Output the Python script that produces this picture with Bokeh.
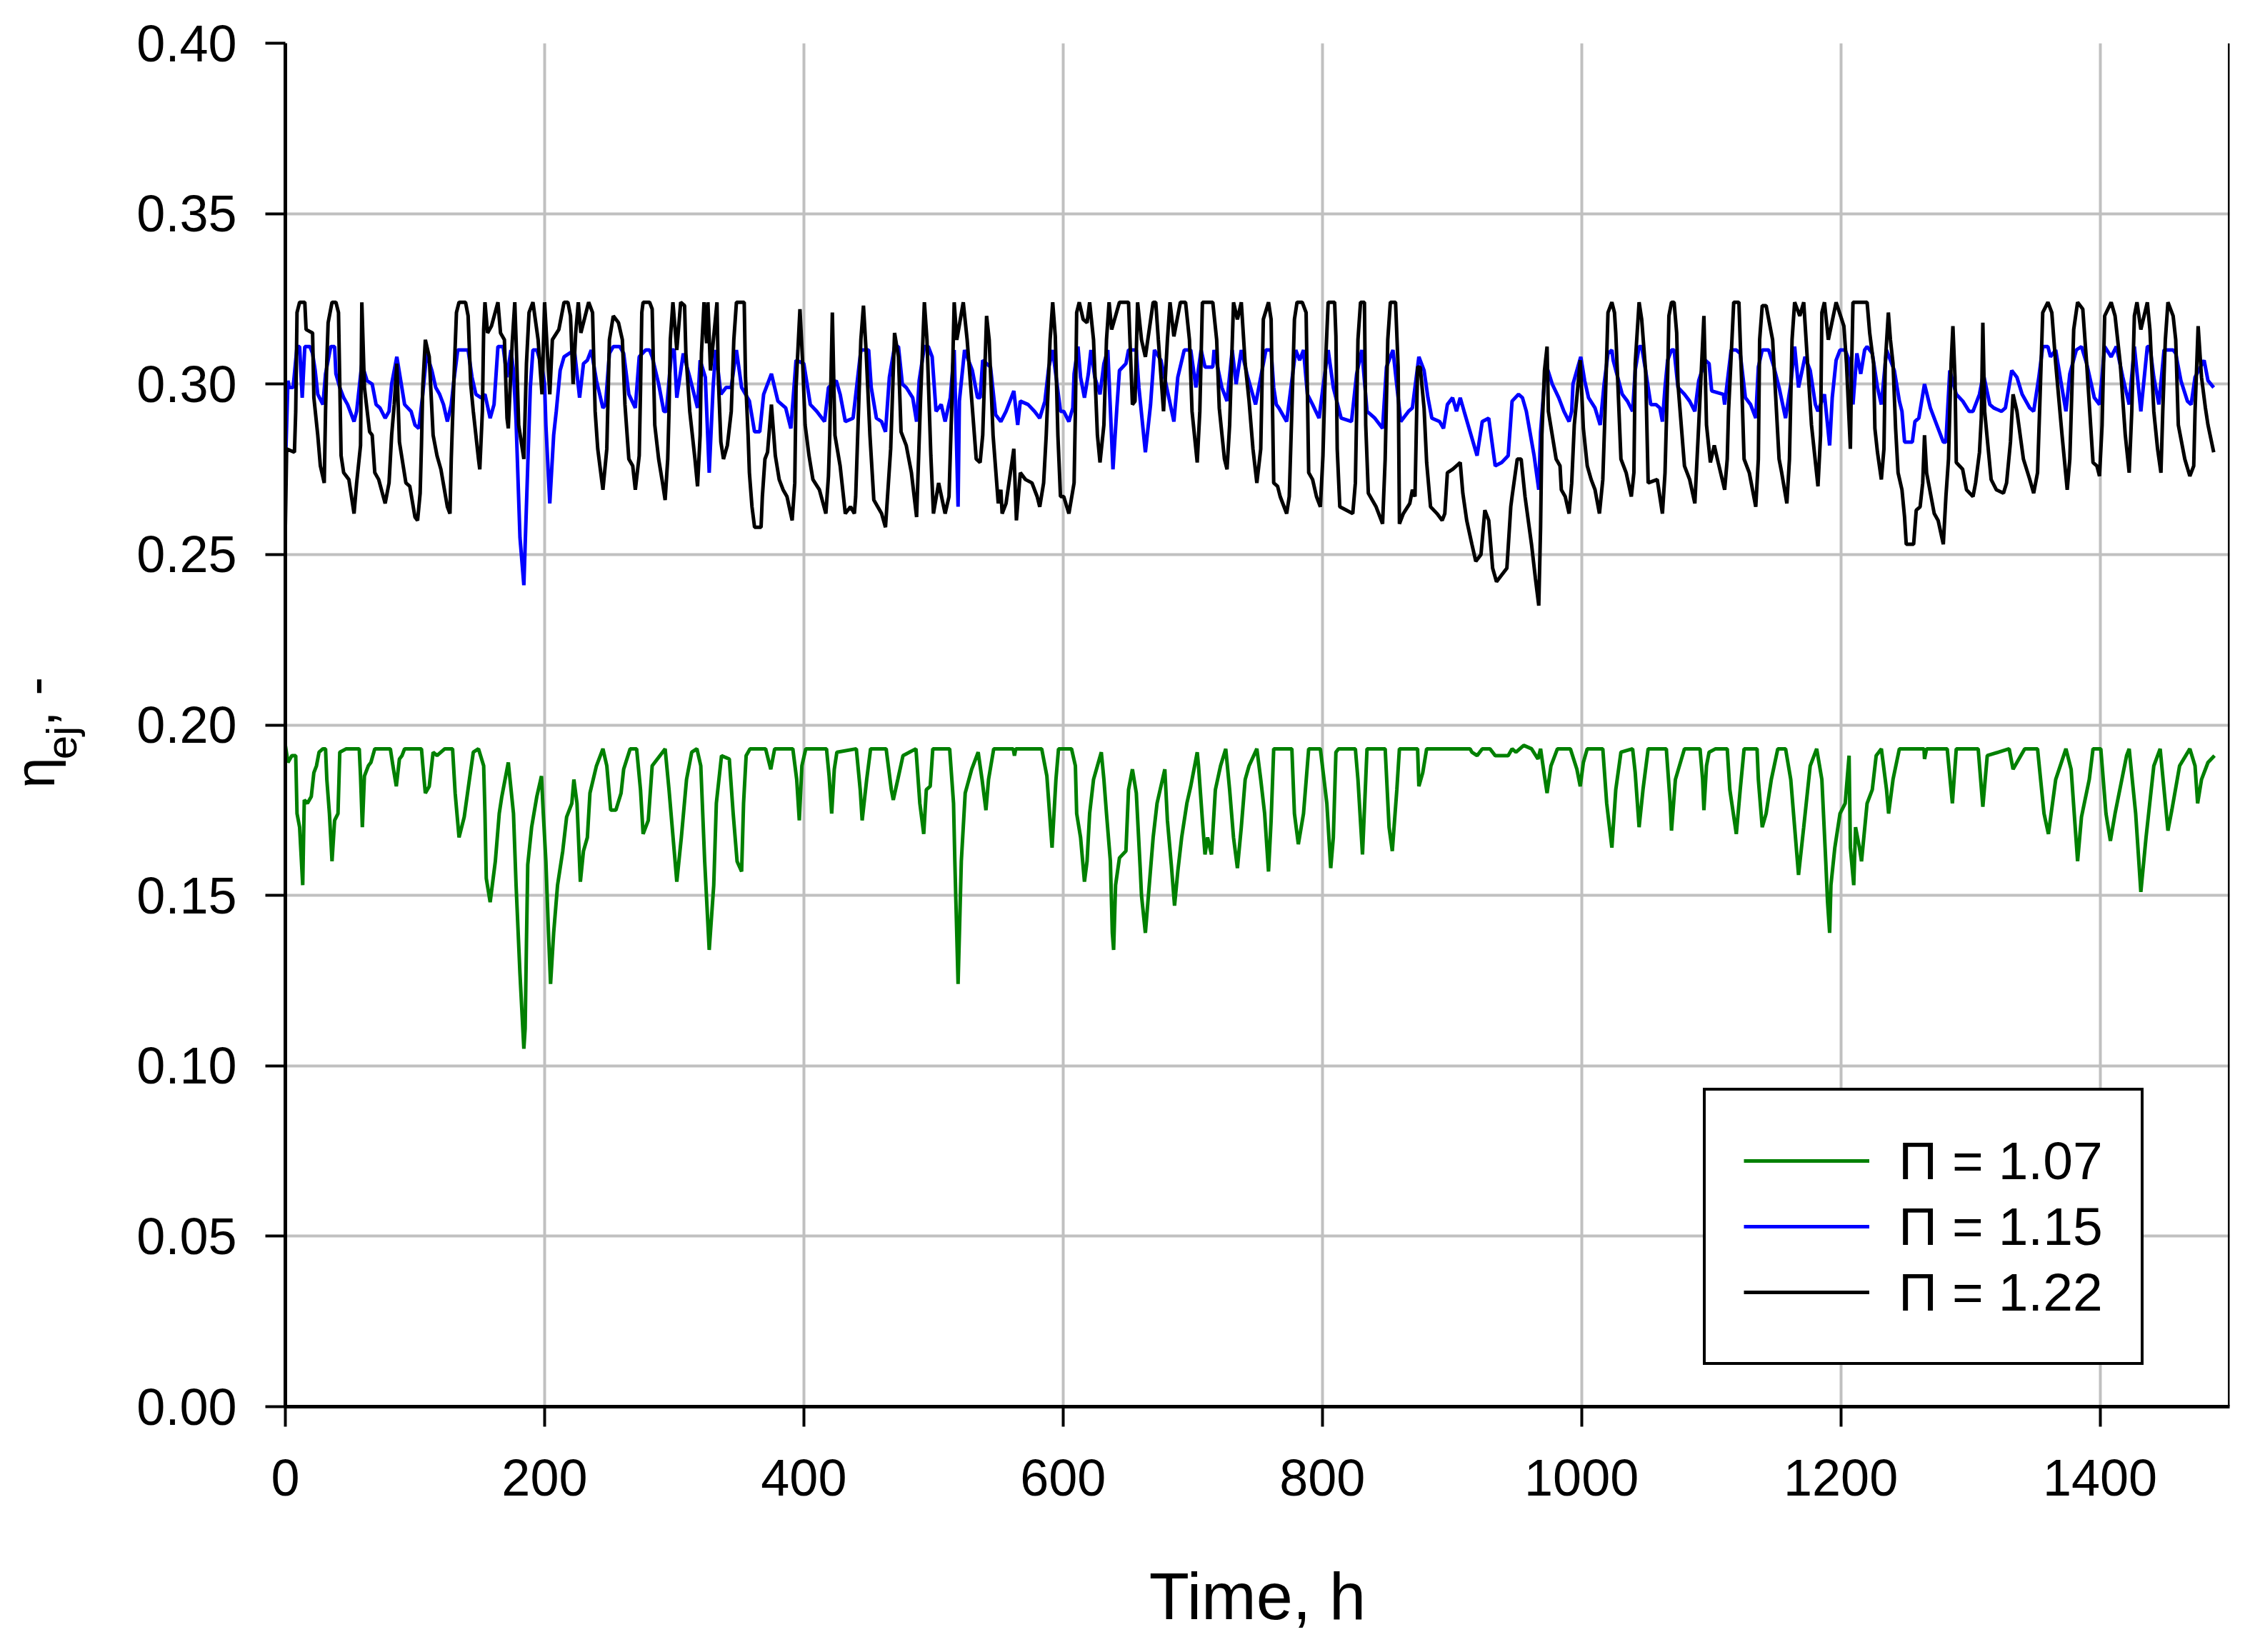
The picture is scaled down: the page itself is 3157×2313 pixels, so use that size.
from bokeh.plotting import figure
from bokeh.models import Legend, LegendItem, Span, FixedTicker, NumeralTickFormatter, LinearAxis
from bokeh.embed import file_html
from bokeh.resources import INLINE

# ---------------- data ----------------
X_TICKS = [0, 200, 400, 600, 800, 1000, 1200, 1400]
Y_TICKS = [0.00, 0.05, 0.10, 0.15, 0.20, 0.25, 0.30, 0.35, 0.40]
SERIES_LABELS = ["Π = 1.07", "Π = 1.15", "Π = 1.22"]
X_LABEL = "Time, h"
Y_LABEL_MAIN = "η\u00a0\u00a0, -\u00a0"   # "η_ej, -" : the gap is filled by the subscript below
Y_LABEL_SUB = "ej\u00a0\u00a0\u00a0"

# Π = 1.07 (green)
GREEN = [
    (0,0.194),(2,0.189),(5,0.191),(8,0.191),(9,0.174),(11,0.170),(13.4,0.153),(14.6,0.178),(17,0.177),(20,0.179),
    (22,0.186),(24,0.188),(26,0.192),(29,0.193),(31,0.193),(32,0.184),(34,0.174),(36,0.160),(38,0.172),(40.6,0.174),
    (42,0.192),(47,0.193),(57,0.193),(58,0.185),(59.4,0.170),(61,0.185),(64,0.188),(66,0.189),(69,0.193),(81,0.193),
    (83,0.188),(85.6,0.182),(88,0.190),(90,0.191),(92,0.193),(105,0.193),(107,0.184),(108,0.180),(111,0.182),(114,0.192),
    (117,0.191),(123,0.193),(129,0.193),(131,0.180),(134,0.167),(138,0.173),(142,0.184),(145,0.192),(149,0.193),(153,0.188),
    (154,0.174),(155,0.155),(158,0.148),(162,0.160),(165,0.174),(167,0.179),(172,0.189),(176,0.174),(178,0.153),(181,0.127),
    (184,0.105),(185,0.111),(186,0.136),(187,0.159),(190,0.170),(194,0.179),(197.6,0.185),(199,0.174),(201,0.160),(203,0.139),
    (204.6,0.124),(207,0.139),(210,0.153),(214,0.163),(217,0.173),(221,0.177),(222.6,0.184),(225,0.177),(227.6,0.154),(230,0.163),
    (233,0.167),(235,0.180),(240,0.188),(245,0.193),(248,0.188),(251,0.175),(255,0.175),(259,0.180),(261,0.187),(266,0.193),
    (271,0.193),(274,0.181),(276,0.168),(280,0.172),(283,0.188),(287,0.190),(293,0.193),(296,0.181),(300,0.163),
    (302,0.154),(305.5,0.167),(309.5,0.184),(313.5,0.192),(317.5,0.193),(320.5,0.188),(323.5,0.160),(327,0.134),(330.5,0.153),
    (332.5,0.177),(336.5,0.191),(342.5,0.190),(345.5,0.174),(348.5,0.160),(352,0.157),(353.5,0.177),(355.5,0.191),(358.5,0.193),
    (370.5,0.193),(374.5,0.187),(377.5,0.193),(381.5,0.193),(391.5,0.193),(394.5,0.184),(396.5,0.172),(398.5,0.188),(401.5,0.193),
    (417.5,0.193),(419.5,0.185),(421.5,0.174),(423.5,0.187),(425.5,0.192),(440.5,0.193),(443.5,0.181),(445,0.172),(448.5,0.184),
    (451.5,0.193),(463.5,0.193),(467.5,0.181),(469,0.178),(472.5,0.184),(476.5,0.191),(486.5,0.193),(489.5,0.177),(492.5,0.168),
    (494.5,0.181),(497.5,0.182),(499.5,0.193),(512.5,0.193),(515.5,0.177),(516.5,0.160),(519,0.124),(521.5,0.160),(524.5,0.180),
    (529.5,0.187),(534.5,0.192),(537.5,0.184),(540.5,0.175),(542.5,0.184),(546.5,0.193),(561.5,0.193),(562.5,0.191),(563.5,0.193),
    (583.5,0.193),(587.5,0.185),(591.5,0.164),(594.5,0.184),(596.5,0.193),(606.5,0.193),
    (609.5,0.188),(610.5,0.174),(613.5,0.167),(616.5,0.154),(618.5,0.160),(620.5,0.174),(623.5,0.184),(626.5,0.188),(629.5,0.192),
    (631.5,0.184),(633.5,0.174),(636.5,0.160),(638,0.139),(639,0.134),(640.5,0.153),(643.5,0.161),(648.5,0.163),(650.5,0.181),
    (653.5,0.187),(656.5,0.180),(659.5,0.158),(660.5,0.150),(663.5,0.139),(666.5,0.153),(669.5,0.167),(672.5,0.177),(678.5,0.187),
    (680.5,0.172),(683.5,0.159),(686,0.147),(688.5,0.157),(691.5,0.167),(695.5,0.177),(698.5,0.182),(703.5,0.192),(704.5,0.188),
    (707.5,0.172),(709.5,0.162),(711.5,0.167),(714.5,0.162),(717.5,0.181),(721.5,0.188),(725.5,0.193),(728.5,0.181),(731.5,0.167),
    (734.5,0.158),(737.5,0.170),(740.5,0.184),(743.5,0.188),(749.5,0.193),(752.5,0.184),(755.5,0.174),(758.5,0.157),(760.5,0.172),
    (762.5,0.193),(776.5,0.193),(778.5,0.174),(781.5,0.165),(785.5,0.174),(789.5,0.193),(798.5,0.193),(803.5,0.177),(806.5,0.158),
    (808.5,0.167),(810.5,0.192),(812.5,0.193),(825.5,0.193),(827.5,0.184),(831,0.162),(833.5,0.184),(834.5,0.193),(848.5,0.193),
    (851.5,0.170),(854,0.163),(857.5,0.181),(859.5,0.193),(873.5,0.193),(874.5,0.182),(877.5,0.186),(880.5,0.193),(914,0.193),
    (915.4,0.192),(919.4,0.191),(923.4,0.193),(929.4,0.193),(933.4,0.191),(943.4,0.191),(946.4,0.193),(949.4,0.192),(955.4,0.194),
    (961.4,0.193),(966.4,0.190),(968.4,0.193),(971.4,0.185),(973.4,0.180),(976.4,0.188),(981.4,0.193),(991.4,0.193),(996.4,0.187),
    (999,0.182),(1001.4,0.189),(1004.4,0.193),(1016.4,0.193),(1019.4,0.177),(1023.4,0.164),(1026.4,0.181),(1030.4,0.192),
    (1039.4,0.193),(1041.4,0.186),(1044.4,0.170),(1047.4,0.181),(1051.4,0.193),(1065.4,0.193),(1068.4,0.177),(1069.4,0.169),
    (1072.4,0.184),(1079.4,0.193),(1091.4,0.193),(1093.4,0.184),(1094.4,0.175),(1096.4,0.188),(1098.4,0.192),(1103.4,0.193),
    (1112.4,0.193),(1114.4,0.181),(1119.4,0.168),(1122.4,0.181),(1125.4,0.193),(1135.4,0.193),(1136.4,0.184),(1139.4,0.170),
    (1142.4,0.174),(1146.4,0.184),(1151.4,0.193),(1157.4,0.193),(1161.4,0.184),(1164.4,0.170),(1167.4,0.156),(1171.4,0.170),
    (1176.4,0.188),(1181.4,0.193),(1185.4,0.184),(1188.4,0.160),(1189.8,0.148),(1191.4,0.139),(1192.4,0.153),(1195.4,0.164),
    (1199.4,0.174),(1203.4,0.177),(1206.4,0.191),(1207.4,0.164),(1210,0.153),(1211.4,0.170),(1214.4,0.164),
    (1216,0.160),(1220.3,0.177),(1224.3,0.181),(1227.3,0.191),(1231.3,0.193),(1235.3,0.181),(1236.9,0.174),(1240.3,0.184),
    (1245.2,0.193),(1264.2,0.193),(1264.6,0.190),(1266.2,0.193),(1282.1,0.193),(1286.1,0.177),(1289.1,0.193),(1306.0,0.193),
    (1309.6,0.176),(1313.0,0.191),(1329.9,0.193),(1332.9,0.187),(1335.9,0.189),(1341.9,0.193),(1351.8,0.193),(1356.8,0.174),
    (1360.2,0.168),(1365.8,0.184),(1373.7,0.193),(1377.7,0.187),(1382.7,0.160),(1385.7,0.173),(1391.7,0.184),(1394.6,0.193),
    (1400.6,0.193),(1404.6,0.174),(1408.0,0.166),(1411.6,0.174),(1420.5,0.191),(1422.5,0.193),(1427.5,0.174),(1431.5,0.151),
    (1435.5,0.167),(1441.5,0.188),(1446.4,0.193),(1450.4,0.177),(1452.4,0.169),(1455.4,0.175),(1461.4,0.188),(1469.3,0.193),
    (1473.3,0.188),(1475.3,0.177),(1478.3,0.184),(1483.3,0.189),(1488.3,0.191),
]

# Π = 1.15 (blue)
BLUE = [
    (0,0.275),(2,0.301),(3,0.299),(6,0.299),(7,0.303),(9,0.311),(11,0.311),(13,0.296),(15,0.311),(19,0.311),(21,0.309),
    (23,0.304),(25,0.297),(29,0.294),(31,0.303),(35,0.311),(38,0.311),(39,0.303),(42,0.299),(45,0.296),(48,0.294),(53,0.289),
    (55,0.292),(57,0.299),(59,0.306),(63,0.301),(67,0.300),(70,0.294),(73,0.293),(77,0.290),(80,0.292),(82,0.300),(86,0.308),
    (89,0.301),(92,0.294),(97,0.292),(100,0.288),(103,0.287),(106,0.297),(109,0.309),(113,0.304),(116,0.299),(119,0.297),
    (122,0.294),(125,0.289),(128,0.294),(130,0.301),(133,0.310),(139,0.310),(141,0.310),(144,0.302),(147,0.297),(151,0.296),
    (154,0.297),(158,0.290),(161,0.294),(164,0.311),(168,0.311),(171,0.302),(174,0.310),(176,0.304),(178,0.289),(181,0.255),
    (184,0.241),(187,0.276),(189,0.299),(191,0.310),(194,0.310),(198,0.305),(200,0.300),(201,0.288),(204,0.265),(207,0.285),
    (209,0.292),(212,0.304),(215,0.308),(223,0.310),(227,0.296),(230,0.306),(233,0.307),(236,0.310),(240,0.301),(245,0.293),
    (247,0.294),(250,0.309),(253,0.311),(258,0.311),(261,0.309),(265,0.297),(270,0.293),(273,0.308),(278,0.310),(281,0.310),
    (283,0.308),(288,0.300),(292,0.292),(294,0.292),(298,0.310),(300,0.310),
    (302,0.296),(307,0.309),(312,0.302),(318,0.293),(320,0.307),(324,0.302),(327,0.274),(330,0.299),(332,0.310),(336,0.297),
    (340,0.299),(344,0.299),(348,0.310),(352,0.299),(358,0.295),(362,0.286),(366,0.286),(369,0.297),(375,0.303),(380,0.295),
    (386,0.293),(390,0.287),(394,0.307),(400,0.306),(405,0.294),(410,0.292),(416,0.289),(419,0.299),(425,0.301),(428,0.297),
    (432,0.289),(438,0.290),(441,0.300),(444,0.310),(450,0.310),(452,0.299),(456,0.290),(460,0.289),(463,0.286),(466,0.302),
    (470,0.311),(473,0.311),(476,0.300),(479,0.299),(484,0.296),(487,0.289),(489,0.301),(493,0.311),(496,0.311),(499,0.308),
    (502,0.292),(506,0.294),(509,0.289),(513,0.296),(516,0.310),(519,0.264),(520,0.295),(524,0.310),(530,0.304),(534,0.296),
    (536,0.296),(538,0.307),(544,0.305),(548,0.291),(552,0.289),(556,0.292),(562,0.298),(565,0.288),(567,0.295),(573,0.294),
    (578,0.292),(582,0.290),(586,0.295),(589,0.305),(592,0.310),(598,0.292),
    (600.5,0.292),(604.5,0.289),(607.5,0.293),(608.5,0.303),(611.5,0.311),(613.5,0.302),(616.5,0.296),(619.5,0.303),(621.5,0.310),
    (624.5,0.302),(628.5,0.297),(631.5,0.306),(634.5,0.310),(638.5,0.275),(641.5,0.293),(643.5,0.304),(648.5,0.306),(650.5,0.310),
    (656.5,0.310),(658.5,0.299),(663.5,0.280),(667.5,0.294),(670.5,0.310),(675.5,0.307),(685.5,0.289),(688.5,0.302),(693.5,0.310),
    (698.5,0.310),(702.5,0.299),(706.5,0.310),(709.5,0.305),(715.5,0.305),(716.5,0.310),(722.5,0.299),(726.5,0.295),(730.5,0.310),
    (733.5,0.300),(737.5,0.310),(742.5,0.302),(748.5,0.294),(756.5,0.310),(760.5,0.310),(762.5,0.299),(764.5,0.294),(766.5,0.293),
    (772.5,0.289),(774.5,0.295),(779.5,0.310),(782.5,0.307),(785.5,0.310),(788.5,0.297),(792.5,0.294),(797.5,0.290),(800.5,0.299),
    (804.5,0.310),(808.5,0.299),(814.5,0.290),(822.5,0.289),(826.5,0.303),(830.5,0.310),(834.5,0.292),(840.5,0.290),(846.5,0.287),
    (849.5,0.305),(854.5,0.310),(860.5,0.289),(866.5,0.292),(869.5,0.293),(874.5,0.308),(878.5,0.304),(881.5,0.296),(884.5,0.290),
    (890.5,0.289),(893.5,0.287),(896.5,0.294),(900.5,0.296),(903.5,0.292),
    (906.4,0.296),(909.4,0.292),(919.4,0.279),(923.4,0.289),(928.4,0.290),(933.4,0.276),(938.4,0.277),(943.4,0.279),(946.4,0.295),
    (951.4,0.297),(954.4,0.296),(957.4,0.292),(963.4,0.279),(967,0.269),(968.4,0.286),(972.4,0.306),(977.4,0.300),(982.4,0.296),
    (986.4,0.292),(990.4,0.289),(992.4,0.292),(993.4,0.300),(999.4,0.308),(1002.4,0.301),(1005.4,0.296),(1010.4,0.293),
    (1014.4,0.288),(1017.4,0.300),(1020.4,0.309),(1023.4,0.310),(1024.4,0.307),(1031.4,0.297),(1035.4,0.295),(1039.4,0.292),
    (1041.4,0.304),(1044.4,0.311),(1046.4,0.311),(1049.4,0.304),(1053.4,0.294),(1057.4,0.294),(1060.4,0.293),(1062.4,0.289),
    (1064.4,0.299),(1066.4,0.307),(1069.4,0.310),(1071.4,0.310),(1074.4,0.299),(1079.4,0.297),(1083.4,0.295),(1087.4,0.292),
    (1090.4,0.301),(1095.4,0.307),(1098.4,0.306),(1100.4,0.298),(1109.4,0.297),(1110.4,0.294),(1115.4,0.310),(1119.4,0.310),
    (1122.4,0.309),(1126.4,0.296),(1130.4,0.294),(1134.4,0.290),(1136.4,0.305),(1139.4,0.310),(1144.4,0.310),(1148.4,0.305),
    (1152.4,0.299),(1157.4,0.290),(1161.4,0.300),(1164.4,0.311),(1167.4,0.299),(1172.4,0.308),(1176.4,0.304),(1180.4,0.294),
    (1182.4,0.292),(1187.4,0.297),(1191.4,0.282),(1193.4,0.296),(1196.4,0.307),(1199.4,0.310),(1203.4,0.310),
    (1206.4,0.307),(1209.4,0.294),(1212.4,0.309),(1215.4,0.303),(1218.4,0.310),(1220.3,0.311),(1224.3,0.309),(1228.3,0.299),
    (1231.3,0.294),(1235.3,0.310),(1241.3,0.304),(1245.2,0.295),(1247.2,0.292),(1249.2,0.283),(1255.2,0.283),(1257.2,0.289),
    (1260.2,0.290),(1264.6,0.300),(1269.1,0.293),(1274.1,0.288),(1279.1,0.283),(1281.1,0.283),(1284.1,0.304),(1289.1,0.297),
    (1294.1,0.295),(1299.0,0.292),(1302.0,0.292),(1307.0,0.297),(1310.0,0.303),(1315.0,0.294),(1318.0,0.293),(1324.0,0.292),
    (1327.0,0.293),(1331.9,0.304),(1335.9,0.302),(1339.9,0.297),(1345.8,0.293),(1348.8,0.292),(1352.8,0.302),(1355.8,0.311),
    (1359.8,0.311),(1361.8,0.308),(1365.8,0.310),(1369.7,0.301),(1373.7,0.292),(1376.7,0.303),(1381.7,0.310),(1385.7,0.311),
    (1389.7,0.306),(1395.6,0.296),(1399.6,0.294),(1403.6,0.311),(1408.6,0.308),(1412.6,0.311),(1417.6,0.302),(1422.5,0.294),
    (1426.5,0.311),(1431.5,0.292),(1436.5,0.311),(1438.5,0.311),(1441.5,0.302),(1445.4,0.294),(1449.4,0.310),(1456.4,0.310),
    (1458.4,0.309),(1462.4,0.301),(1467.4,0.295),(1470.3,0.294),(1473.3,0.302),(1480.3,0.307),(1483.3,0.301),(1487.7,0.299),
]

# Π = 1.22 (black)
BLACK = [
    (0,0.258),(1,0.281),(7,0.280),(8,0.292),(9,0.321),(11,0.324),(15,0.324),(16,0.316),(21,0.315),(22,0.296),(25,0.285),
    (27,0.276),(30,0.271),(31,0.292),(32,0.307),(33,0.318),(36,0.324),(39,0.324),(41,0.321),(42,0.300),(43,0.279),(45,0.274),
    (49,0.272),(53,0.262),(55,0.271),(58,0.282),(59,0.324),(61,0.299),(65,0.286),(67,0.285),(69,0.274),(72,0.272),(77,0.265),
    (80,0.271),(82,0.285),(84,0.294),(86,0.306),(88,0.283),(93,0.271),(96,0.270),(100,0.261),(102,0.260),(104,0.268),(105,0.282),
    (106,0.299),(108,0.313),(111,0.308),(114,0.285),(117,0.279),(120,0.275),(125,0.264),(127,0.262),(128,0.278),(130,0.301),
    (132,0.321),(134,0.324),(139,0.324),(141,0.320),(143,0.300),(145,0.292),(149,0.278),(150,0.275),(152,0.292),(153,0.316),
    (154,0.324),(156,0.315),(159,0.317),(164,0.324),(166,0.315),(169,0.313),(171,0.290),(172,0.287),(175,0.312),(177,0.324),
    (178,0.313),(180,0.288),(184,0.278),(186,0.306),(188,0.321),(191,0.324),(195,0.313),(198,0.297),(200,0.324),(204,0.297),
    (206,0.313),(211,0.316),(215,0.324),(218,0.324),(220,0.320),(222,0.300),(224,0.315),(226,0.324),(228,0.315),(234,0.324),
    (237,0.321),(239,0.292),(241,0.281),(245,0.269),(248,0.281),(250,0.313),(253,0.320),(257,0.318),(260,0.313),(262,0.294),
    (265,0.278),(268,0.276),(270,0.269),(273,0.279),(274,0.298),(275,0.321),(276,0.324),(281,0.324),(283,0.322),(284,0.305),
    (285,0.288),(288,0.278),(291,0.271),(293,0.266),(295,0.278),(296,0.292),(297,0.313),(299,0.324),
    (302,0.310),(305,0.324),(308,0.323),(309,0.309),(312,0.292),(314,0.285),(316,0.278),(318,0.270),(320,0.285),(321,0.309),
    (323,0.324),(325,0.312),(326,0.324),(328,0.304),(330,0.312),(333,0.324),(334,0.302),(336,0.283),(338,0.278),(341,0.282),
    (344,0.292),(346,0.313),(348,0.324),(354,0.324),(355,0.302),(357,0.285),(358,0.274),(360,0.264),(362,0.258),(367,0.258),
    (368,0.267),(370,0.278),(372,0.280),(375,0.294),(378,0.279),(381,0.272),(384,0.269),(387,0.267),(391,0.260),(393,0.271),
    (394,0.299),(397,0.322),(399,0.307),(401,0.288),(404,0.279),(407,0.272),(412,0.269),(417,0.262),(419,0.273),(420,0.285),
    (422,0.321),(424,0.285),(428,0.276),(432,0.262),(436,0.264),(439,0.262),(440,0.267),(444,0.313),(446,0.323),(448,0.310),
    (451,0.285),(454,0.266),(457,0.264),(460,0.262),(463,0.258),(467,0.281),(470,0.315),(473,0.308),(475,0.286),(479,0.282),
    (483,0.274),(487,0.261),(490,0.295),(493,0.324),(495,0.313),(498,0.279),(500,0.262),(504,0.271),(509,0.262),(512,0.267),
    (514,0.292),(516,0.324),(518,0.313),(523,0.324),(526,0.313),(530,0.293),(533,0.278),(536,0.277),(538,0.285),(541,0.320),
    (543,0.313),(546,0.285),(550,0.265),(552,0.269),(553,0.262),(556,0.265),(562,0.281),(564,0.260),(567,0.274),(571,0.272),
    (576,0.271),(580,0.267),(582,0.264),(585,0.271),(587,0.285),(590,0.313),(592,0.324),(594,0.314),(596,0.285),(598,0.267),
    (600.5,0.267),(604.5,0.262),(608.5,0.271),(609.5,0.292),(610.5,0.321),(612.5,0.324),(615.5,0.319),(618.5,0.318),(620.5,0.324),
    (623.5,0.313),(626.5,0.285),(628.5,0.277),(631.5,0.288),(633.5,0.313),(635.5,0.324),(637.5,0.316),(643.5,0.324),(650.5,0.324),
    (653.5,0.294),(655.5,0.295),(657.5,0.324),(660.5,0.313),(663.5,0.308),(669.5,0.324),(671.5,0.324),(673.5,0.313),(677.5,0.292),
    (680.5,0.313),(682.5,0.324),(685.5,0.314),(690.5,0.324),(694.5,0.324),(697.5,0.313),(699.5,0.292),(703.5,0.277),(705.5,0.292),
    (707.5,0.324),(715.5,0.324),(718.5,0.313),(720.5,0.293),(724.5,0.278),(726.5,0.275),(728.5,0.288),(731.5,0.324),(734.5,0.319),
    (737.5,0.324),(740.5,0.306),(743.5,0.295),(746.5,0.281),(749.5,0.271),(752.5,0.281),(754.5,0.319),(758.5,0.324),(760.5,0.319),
    (762.5,0.271),(765.5,0.270),(767.5,0.267),(772.5,0.262),(774.5,0.267),(776.5,0.292),(778.5,0.319),(780.5,0.324),(784.5,0.324),
    (787.5,0.321),(789.5,0.274),(792.5,0.272),(795.5,0.267),(798.5,0.264),(800.5,0.279),(802.5,0.306),(804.5,0.324),(809.5,0.324),
    (810.5,0.314),(811.5,0.281),(813.5,0.264),(818.5,0.263),(823.5,0.262),(825.5,0.271),(827.5,0.313),(829.5,0.324),(832.5,0.324),
    (833.5,0.288),(835.5,0.268),(841.5,0.264),(846.5,0.259),(848.5,0.278),(850.5,0.313),(852.5,0.324),(856.5,0.324),(858.5,0.305),
    (859.5,0.259),(862.5,0.262),(867.5,0.265),(869.5,0.269),(871.5,0.267),(873.5,0.305),(875.5,0.305),(878.5,0.293),(880.5,0.277),
    (883.5,0.264),(888.5,0.262),(892.5,0.260),(894.5,0.262),(896.5,0.274),(900.5,0.275),
    (906.4,0.277),(908.4,0.268),(911.4,0.260),(915.4,0.253),(918.4,0.248),(922.4,0.250),(925.4,0.263),(928.4,0.260),(931.4,0.246),
    (934.4,0.242),(938.4,0.244),(942.4,0.246),(945.4,0.264),(946.4,0.267),(950.4,0.278),(953.4,0.278),(956.4,0.267),(961.4,0.253),
    (964.4,0.243),(967,0.235),(968.4,0.258),(969.4,0.285),(971.4,0.304),(973.4,0.311),(974.4,0.292),(980.4,0.278),(983.4,0.276),
    (984.4,0.269),(987.4,0.267),(990.4,0.262),(992.4,0.271),(994.4,0.288),(999,0.307),(1001.4,0.287),(1004.4,0.276),(1007.4,0.272),
    (1010.4,0.269),(1013.8,0.262),(1016.4,0.272),(1017.8,0.288),(1020.4,0.321),(1023.4,0.324),(1025.4,0.321),(1026.4,0.315),
    (1030.4,0.278),(1034.4,0.274),(1038.4,0.267),(1040.4,0.274),(1041.4,0.306),(1044.4,0.324),(1046.4,0.319),(1049.4,0.304),
    (1051.4,0.271),(1058.4,0.272),(1062.4,0.262),(1064.4,0.274),(1066.4,0.302),(1067.4,0.320),(1069.4,0.324),(1071.4,0.324),
    (1073.4,0.315),(1074.4,0.300),(1079.4,0.276),(1083.4,0.272),(1087.4,0.265),(1090.4,0.288),(1094.4,0.320),(1096.4,0.288),
    (1099.4,0.277),(1102.4,0.282),(1105.4,0.277),(1110.4,0.269),(1112.4,0.278),(1113.4,0.292),(1117.4,0.324),(1121.4,0.324),
    (1123.4,0.302),(1125.4,0.278),(1129.4,0.274),(1134.4,0.264),(1136.4,0.278),(1137.4,0.313),(1139.4,0.323),(1142.4,0.323),
    (1147.4,0.313),(1152.4,0.278),(1154.4,0.274),(1158.4,0.265),(1160.4,0.278),(1162.4,0.313),(1164.4,0.324),(1168.4,0.320),
    (1171.4,0.324),(1174.4,0.306),(1177.4,0.288),(1182.4,0.270),(1184.4,0.285),(1185.4,0.321),(1187.4,0.324),(1190.4,0.313),
    (1196.4,0.324),(1202.4,0.317),(1204.4,0.306),(1207.4,0.281),(1208.4,0.306),(1209.4,0.324),(1216.4,0.324),
    (1220.3,0.324),(1222.3,0.315),(1225.3,0.306),(1226.3,0.287),(1228.3,0.280),(1231.3,0.272),(1233.3,0.281),(1234.3,0.306),
    (1236.7,0.321),(1238.3,0.313),(1240.3,0.306),(1242.3,0.287),(1244.2,0.274),(1247.2,0.269),(1249.2,0.261),(1250.5,0.253),
    (1256.2,0.253),(1258.2,0.263),(1261.2,0.264),(1263.2,0.271),(1264.6,0.285),(1266.2,0.274),(1272.1,0.262),(1275.1,0.260),
    (1279.1,0.253),(1281.1,0.267),(1283.1,0.278),(1285.1,0.306),(1286.5,0.317),(1288.1,0.302),(1289.1,0.277),(1294.0,0.275),
    (1297.0,0.269),(1302.0,0.267),(1304.0,0.271),(1307.0,0.280),(1308.4,0.290),(1309.6,0.318),(1311.0,0.292),(1314.0,0.280),
    (1316.0,0.272),(1320.0,0.269),(1325.5,0.268),(1327.9,0.271),(1330.9,0.283),(1332.9,0.297),(1335.9,0.292),(1340.9,0.278),
    (1345.8,0.272),(1348.8,0.268),(1351.8,0.274),(1353.8,0.297),(1355.8,0.321),(1359.8,0.324),(1362.8,0.321),(1365.8,0.306),
    (1370.7,0.285),(1374.7,0.269),(1376.7,0.278),(1379.7,0.316),(1382.7,0.324),(1386.7,0.322),(1389.7,0.306),(1394.6,0.277),
    (1397.6,0.276),(1399.6,0.273),(1401.6,0.288),(1403.6,0.320),(1408.6,0.324),(1411.6,0.320),(1415.6,0.306),(1419.5,0.285),
    (1422.5,0.274),(1424.5,0.292),(1426.5,0.320),(1428.5,0.324),(1431.5,0.316),(1436.5,0.324),(1438.5,0.316),(1441.5,0.292),
    (1444.4,0.281),(1447.0,0.274),(1448.4,0.292),(1450.4,0.313),(1452.4,0.324),(1456.4,0.320),(1458.4,0.313),(1460.4,0.288),
    (1465.4,0.278),(1469.3,0.273),(1472.3,0.276),(1473.3,0.292),(1475.7,0.317),(1478.3,0.302),(1481.3,0.293),(1483.3,0.288),
    (1487.7,0.280),
]

green_t = [p[0] for p in GREEN]
green_v = [p[1] for p in GREEN]
blue_t = [p[0] for p in BLUE]
blue_v = [p[1] for p in BLUE]
black_t = [p[0] for p in BLACK]
black_v = [p[1] for p in BLACK]

# ---------------- figure ----------------
FONT = "Liberation Sans"

p = figure(
    frame_width=2722, frame_height=1909,
    x_range=(0, 1500), y_range=(0, 0.40),
    output_backend="svg", toolbar_location=None,
    min_border_left=399, min_border_right=20, min_border_top=60, min_border_bottom=328,
    background_fill_color="white", border_fill_color="white",
)
p.outline_line_color = None

xax = p.xaxis[0]
yax = p.yaxis[0]
for ax in (xax, yax):
    ax.axis_line_color = "black"
    ax.axis_line_width = 5
    ax.major_tick_line_color = "black"
    ax.major_tick_line_width = 4
    ax.major_tick_out = 28
    ax.major_tick_in = 0
    ax.minor_tick_line_color = None
    ax.major_label_text_font = FONT
    ax.major_label_text_font_size = "72px"
    ax.major_label_text_color = "black"

xax.ticker = FixedTicker(ticks=X_TICKS)
yax.ticker = FixedTicker(ticks=Y_TICKS)
yax.formatter = NumeralTickFormatter(format="0.00")
xax.major_label_standoff = 46
yax.major_label_standoff = 40

xax.axis_label = X_LABEL
xax.axis_label_text_font = FONT
xax.axis_label_text_font_size = "92px"
xax.axis_label_text_font_style = "normal"
xax.axis_label_text_color = "black"
xax.axis_label_standoff = 87

# subscript part of the y label sits on the main y axis ...
yax.axis_label = Y_LABEL_SUB
yax.axis_label_text_font = FONT
yax.axis_label_text_font_size = "60px"
yax.axis_label_text_font_style = "normal"
yax.axis_label_text_color = "black"
yax.axis_label_standoff = 68

# ... and the main part on an outer, otherwise invisible, y axis
outer = LinearAxis(
    ticker=FixedTicker(ticks=[]),
    axis_line_color=None, major_tick_line_color=None, minor_tick_line_color=None,
    major_tick_out=0, major_tick_in=0, minor_tick_out=0, minor_tick_in=0,
    major_label_standoff=0,
    axis_label=Y_LABEL_MAIN, axis_label_standoff=-42,
    axis_label_text_font=FONT, axis_label_text_font_size="78px",
    axis_label_text_font_style="normal", axis_label_text_color="black",
)
p.add_layout(outer, "left")

# grid
p.xgrid.grid_line_color = "#C0C0C0"
p.xgrid.grid_line_width = 4
p.ygrid.grid_line_color = "#C0C0C0"
p.ygrid.grid_line_width = 4

# right border line
p.add_layout(Span(location=1500, dimension="height", line_color="black", line_width=5))

# series
r_green = p.line(green_t, green_v, line_color="#008000", line_width=5)
r_blue = p.line(blue_t, blue_v, line_color="#0000FF", line_width=5)
r_black = p.line(black_t, black_v, line_color="black", line_width=5)

legend = Legend(
    items=[
        LegendItem(label=SERIES_LABELS[0], renderers=[r_green]),
        LegendItem(label=SERIES_LABELS[1], renderers=[r_blue]),
        LegendItem(label=SERIES_LABELS[2], renderers=[r_black]),
    ],
    location=(1985, 58),
    border_line_color="black", border_line_width=4, border_line_alpha=1.0,
    background_fill_color="white", background_fill_alpha=1.0,
    padding=53, spacing=2, margin=0,
    glyph_width=176, glyph_height=90, label_height=90, label_standoff=41,
    label_text_font=FONT, label_text_font_size="75px", label_text_color="black",
    label_text_baseline="middle",
)
p.add_layout(legend)

with open("out.html", "w") as f:
    f.write(file_html(p, INLINE))
